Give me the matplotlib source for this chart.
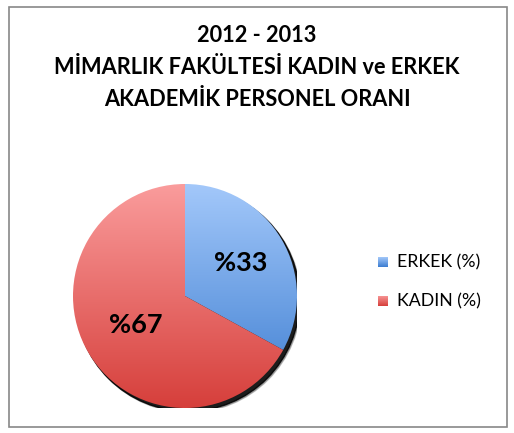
import numpy as np
import matplotlib.pyplot as plt
from matplotlib.colors import LinearSegmentedColormap
from matplotlib.patches import Circle, Rectangle

labels = ['ERKEK (%)', 'KADIN (%)']
values = [33, 67]
top_colors = ['#a3c8fa', '#fa9c9c']
bottom_colors = ['#3b7cd0', '#d63f3b']
title_lines = ['2012 - 2013', 'MİMARLIK FAKÜLTESİ KADIN ve ERKEK',
               'AKADEMİK PERSONEL ORANI']

plt.rcParams['font.family'] = ['Lato', 'DejaVu Sans']

fig = plt.figure(figsize=(5.14, 4.33), dpi=100)
fig.patches.append(Rectangle((9 / 514, 6 / 433), 498 / 514, 420 / 433,
                             transform=fig.transFigure, fill=False,
                             edgecolor='#888888', linewidth=1.2))
for i, line in enumerate(title_lines):
    fig.text(0.5, 1 - (35 + 32.5 * i) / 433, line, ha='center', va='center',
             fontsize=15.7, fontweight='bold')

# pie axes: centre (185, 296) px, radius 112 px
cx, cy, r = 185, 433 - 296, 112
ax = fig.add_axes([(cx - r) / 514, (cy - r) / 433, 2 * r / 514, 2 * r / 433])
ax.axis('off')

# shadow
ax.add_patch(Circle((0.025, -0.03), 1.0, color='black', alpha=0.85, zorder=0))
ax.add_patch(Circle((0.035, -0.04), 1.0, color='black', alpha=0.25, zorder=0))

wedges, _ = ax.pie(values, startangle=90, counterclock=False, radius=1,
                   colors=['none', 'none'], wedgeprops=dict(linewidth=0))

grad = np.linspace(0, 1, 256).reshape(-1, 1)
for w, c0, c1 in zip(wedges, top_colors, bottom_colors):
    cmap = LinearSegmentedColormap.from_list('g', [c0, c1])
    im = ax.imshow(grad, cmap=cmap, extent=[-1, 1, -1, 1], origin='upper',
                   aspect='auto', zorder=1)
    im.set_clip_path(w)
ax.set_aspect('equal')
ax.set_xlim(-1.0, 1.0)
ax.set_ylim(-1.0, 1.0)

# percentage labels
ang = 90.0
dists = [0.58, 0.51]
total = sum(values)
for v, d in zip(values, dists):
    mid = np.deg2rad(ang - v / total * 180)
    ax.text(d * np.cos(mid), d * np.sin(mid), '%' + str(v), ha='center',
            va='center', fontsize=19.5, fontweight='bold', zorder=3)
    ang -= v / total * 360

# legend
for i, (lab, c0, c1) in enumerate(zip(labels, top_colors, bottom_colors)):
    y = 1 - (262 + 39 * i) / 433
    sq = fig.add_axes([378 / 514, y - 5 / 433, 10 / 514, 10 / 433])
    cmap = LinearSegmentedColormap.from_list('g', [c0, c1])
    sq.imshow(grad, cmap=cmap, aspect='auto')
    sq.axis('off')
    fig.text(397 / 514, y, lab, ha='left', va='center', fontsize=12.8)

fig.savefig('out.png', dpi=100)
